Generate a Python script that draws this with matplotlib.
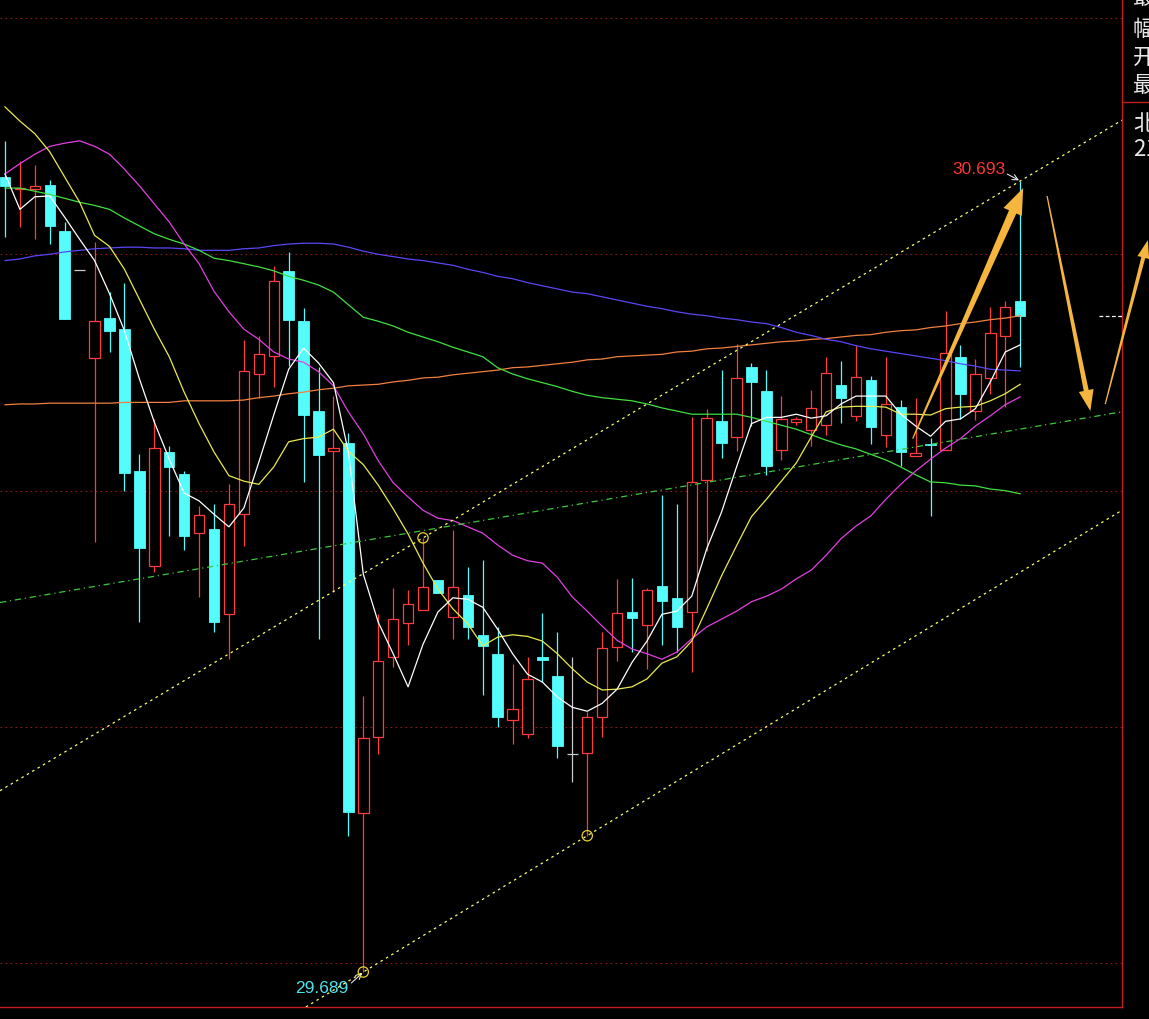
import numpy as np
import matplotlib.pyplot as plt
from matplotlib.patches import Polygon
from matplotlib.lines import Line2D
from matplotlib.transforms import IdentityTransform

plt.rcParams['font.family'] = ['Liberation Sans', 'DejaVu Sans']

# daily candles (open, high, low, close)
opens = [30.698, 30.683, 30.683, 30.688, 30.630, 30.580, 30.468, 30.519, 30.505, 30.325,
         30.204, 30.349, 30.321, 30.246, 30.251, 30.143, 30.270, 30.448, 30.471, 30.579,
         30.515, 30.401, 30.350, 30.360, 29.891, 29.987, 30.089, 30.132, 30.148, 30.187,
         30.140, 30.168, 30.117, 30.093, 30.009, 29.991, 30.089, 30.065, 29.966, 29.967,
         30.013, 30.101, 30.146, 30.129, 30.179, 30.164, 30.146, 30.313, 30.388, 30.368,
         30.457, 30.426, 30.352, 30.387, 30.377, 30.383, 30.434, 30.395, 30.440, 30.371,
         30.406, 30.344, 30.359, 30.352, 30.470, 30.401, 30.443, 30.496, 30.541]
highs = [30.744, 30.718, 30.713, 30.694, 30.641, 30.580, 30.616, 30.552, 30.564, 30.346,
         30.391, 30.357, 30.325, 30.280, 30.283, 30.308, 30.491, 30.496, 30.585, 30.603,
         30.532, 30.457, 30.420, 30.373, 30.039, 30.143, 30.176, 30.174, 30.240, 30.187,
         30.250, 30.203, 30.212, 30.127, 30.080, 30.089, 30.145, 30.121, 30.089, 30.019,
         30.121, 30.188, 30.189, 30.176, 30.294, 30.283, 30.393, 30.404, 30.453, 30.486,
         30.462, 30.453, 30.420, 30.393, 30.428, 30.470, 30.465, 30.485, 30.445, 30.470,
         30.415, 30.418, 30.367, 30.528, 30.485, 30.467, 30.533, 30.541, 30.693]
lows = [30.622, 30.635, 30.619, 30.613, 30.518, 30.580, 30.235, 30.476, 30.300, 30.133,
        30.197, 30.242, 30.225, 30.165, 30.121, 30.086, 30.230, 30.418, 30.432, 30.458,
        30.311, 30.112, 30.171, 29.862, 29.689, 29.966, 30.076, 30.104, 30.148, 30.170,
        30.112, 30.112, 30.041, 30.000, 29.978, 29.986, 30.057, 29.961, 29.930, 29.862,
        29.987, 30.084, 30.095, 30.074, 30.104, 30.095, 30.070, 30.223, 30.341, 30.350,
        30.382, 30.320, 30.339, 30.383, 30.357, 30.371, 30.386, 30.388, 30.359, 30.355,
        30.331, 30.344, 30.268, 30.352, 30.391, 30.390, 30.423, 30.406, 30.457]
closes = [30.687, 30.684, 30.687, 30.636, 30.518, 30.580, 30.515, 30.503, 30.322, 30.227,
          30.354, 30.330, 30.242, 30.269, 30.133, 30.283, 30.452, 30.473, 30.566, 30.517,
          30.396, 30.345, 30.354, 29.892, 29.986, 30.084, 30.137, 30.156, 30.178, 30.170,
          30.178, 30.127, 30.103, 30.013, 30.023, 30.061, 30.085, 29.976, 29.966, 30.013,
          30.100, 30.145, 30.138, 30.174, 30.160, 30.127, 30.311, 30.392, 30.360, 30.443,
          30.438, 30.331, 30.391, 30.391, 30.405, 30.449, 30.418, 30.444, 30.381, 30.410,
          30.349, 30.348, 30.358, 30.475, 30.423, 30.448, 30.500, 30.533, 30.522]

# moving averages
ma5 = [30.702, 30.657, 30.673, 30.674, 30.647, 30.619, 30.592, 30.550, 30.503, 30.442,
       30.387, 30.340, 30.297, 30.287, 30.270, 30.254, 30.278, 30.336, 30.396, 30.454,
       30.481, 30.462, 30.437, 30.349, 30.194, 30.133, 30.093, 30.051, 30.105, 30.146,
       30.164, 30.162, 30.152, 30.124, 30.093, 30.067, 30.057, 30.038, 30.025, 30.020,
       30.030, 30.048, 30.082, 30.109, 30.143, 30.147, 30.166, 30.226, 30.273, 30.330,
       30.385, 30.393, 30.393, 30.397, 30.392, 30.395, 30.410, 30.420, 30.420, 30.420,
       30.397, 30.382, 30.369, 30.388, 30.391, 30.404, 30.438, 30.476, 30.485]
ma10 = [30.787, 30.769, 30.753, 30.730, 30.698, 30.666, 30.624, 30.610, 30.581, 30.543,
        30.505, 30.470, 30.425, 30.385, 30.349, 30.319, 30.312, 30.308, 30.330, 30.362,
        30.366, 30.368, 30.378, 30.350, 30.333, 30.307, 30.277, 30.245, 30.208, 30.175,
        30.150, 30.131, 30.103, 30.114, 30.117, 30.115, 30.109, 30.093, 30.074, 30.057,
        30.047, 30.048, 30.051, 30.061, 30.081, 30.089, 30.109, 30.150, 30.192, 30.230,
        30.267, 30.289, 30.312, 30.335, 30.368, 30.400, 30.406, 30.407, 30.407, 30.406,
        30.397, 30.397, 30.396, 30.404, 30.406, 30.407, 30.414, 30.423, 30.435]
ma20 = [30.702, 30.715, 30.727, 30.737, 30.741, 30.744, 30.737, 30.727, 30.708, 30.687,
        30.664, 30.641, 30.613, 30.588, 30.553, 30.527, 30.505, 30.492, 30.476, 30.467,
        30.463, 30.451, 30.433, 30.400, 30.372, 30.338, 30.310, 30.292, 30.275, 30.265,
        30.262, 30.254, 30.246, 30.231, 30.218, 30.211, 30.208, 30.190, 30.165, 30.147,
        30.128, 30.110, 30.099, 30.093, 30.086, 30.095, 30.112, 30.127, 30.137, 30.147,
        30.159, 30.166, 30.175, 30.188, 30.199, 30.218, 30.239, 30.255, 30.268, 30.289,
        30.308, 30.325, 30.340, 30.354, 30.366, 30.382, 30.395, 30.409, 30.419]
ma60 = [30.684, 30.684, 30.680, 30.676, 30.671, 30.666, 30.662, 30.657, 30.646, 30.636,
        30.626, 30.619, 30.613, 30.605, 30.595, 30.592, 30.588, 30.584, 30.579, 30.572,
        30.567, 30.561, 30.552, 30.536, 30.520, 30.515, 30.509, 30.501, 30.495, 30.489,
        30.482, 30.476, 30.470, 30.456, 30.448, 30.442, 30.437, 30.432, 30.426, 30.421,
        30.418, 30.416, 30.414, 30.410, 30.405, 30.401, 30.397, 30.397, 30.397, 30.397,
        30.393, 30.388, 30.383, 30.378, 30.371, 30.364, 30.358, 30.353, 30.346, 30.339,
        30.330, 30.320, 30.311, 30.310, 30.307, 30.306, 30.302, 30.300, 30.296]
ma120 = [30.592, 30.594, 30.598, 30.600, 30.603, 30.605, 30.607, 30.608, 30.609, 30.609,
         30.608, 30.608, 30.607, 30.605, 30.605, 30.605, 30.607, 30.608, 30.611, 30.613,
         30.614, 30.614, 30.613, 30.609, 30.604, 30.600, 30.597, 30.594, 30.592, 30.589,
         30.586, 30.581, 30.577, 30.572, 30.569, 30.564, 30.560, 30.556, 30.552, 30.550,
         30.546, 30.542, 30.538, 30.534, 30.531, 30.527, 30.524, 30.522, 30.519, 30.517,
         30.514, 30.512, 30.507, 30.501, 30.497, 30.492, 30.489, 30.484, 30.480, 30.477,
         30.474, 30.471, 30.468, 30.465, 30.461, 30.458, 30.454, 30.453, 30.452]
ma250 = [30.409, 30.410, 30.410, 30.411, 30.411, 30.411, 30.411, 30.411, 30.412, 30.412,
         30.412, 30.412, 30.414, 30.414, 30.414, 30.414, 30.415, 30.418, 30.420, 30.423,
         30.425, 30.428, 30.430, 30.433, 30.434, 30.435, 30.438, 30.440, 30.443, 30.444,
         30.447, 30.449, 30.451, 30.453, 30.456, 30.457, 30.459, 30.461, 30.463, 30.466,
         30.467, 30.470, 30.471, 30.472, 30.473, 30.476, 30.477, 30.480, 30.481, 30.483,
         30.485, 30.487, 30.489, 30.490, 30.492, 30.493, 30.495, 30.497, 30.498, 30.501,
         30.503, 30.504, 30.507, 30.509, 30.512, 30.514, 30.517, 30.519, 30.522]

grid_levels = [29.7, 30.0, 30.3, 30.6, 30.9]

# candles whose high / low the software labels
marked_high = 68
marked_low = 24

# drawn annotations: channel lines, support line, hand-drawn arrows
upper_channel = [(28, 30.240), (68, 30.693)]
lower_channel = [(24, 29.689), (39, 29.862)]
support_line = [(-0.335, 30.158), (74.8, 30.400)]
circled = [(28, 30.240), (24, 29.689), (39, 29.862)]
arrows = [((60.8, 30.366), (68.2, 30.684), 8, 20, 26),
          ((69.8, 30.674), (72.7, 30.401), 5, 15, 21),
          ((73.7, 30.410), (76.55, 30.618), 4, 12, 18)]

panel_text = ['最', '幅', '开', '最', '北', '21']
panel_y = [-2, 29, 57, 86, 123, 150]

RED = '#FF3C3C'
CYAN = '#54FCFC'
GREY = '#C8C8C8'
BORDER = '#C41E1E'


def tapered_arrow(ax, tail, tip, w1, head_w, head_len, color):
    p0 = ax.transData.transform(tail)
    p1 = ax.transData.transform(tip)
    d = (p1 - p0) / np.hypot(*(p1 - p0))
    n = np.array([-d[1], d[0]])
    b = p1 - d * head_len
    pts = [p0 + n * 0.6, b + n * w1 / 2, b + n * head_w / 2, p1,
           b - n * head_w / 2, b - n * w1 / 2, p0 - n * 0.6]
    poly = Polygon(pts, closed=True, facecolor=color, edgecolor='none',
                   transform=IdentityTransform(), clip_on=False, zorder=10)
    ax.add_artist(poly)


fig = plt.figure(figsize=(11.49, 10.20), dpi=100, facecolor='black')
ax = fig.add_axes([0, 12 / 1020, 1122 / 1149, 1008 / 1020])
ax.set_facecolor('black')
ax.set_xlim(-0.335, 74.82)
ax.set_ylim(29.6446, 30.924)
ax.set_xticks([])
ax.set_yticks([])
for s in ['top', 'left']:
    ax.spines[s].set_visible(False)
for s in ['right', 'bottom']:
    ax.spines[s].set_color(BORDER)
    ax.spines[s].set_linewidth(1.0)

for g in grid_levels:
    ax.axhline(g, color='#8C1A1A', lw=0.8, ls=(0, (1.5, 3)), zorder=1)

o = np.array(opens)
h = np.array(highs)
l = np.array(lows)
c = np.array(closes)
idx = np.arange(len(c))
up = c > o
down = c < o
flat = c == o

ax.vlines(idx[up], l[up], h[up], color=RED, lw=0.9, zorder=2)
ax.bar(idx[up], c[up] - o[up], bottom=o[up], width=0.7, facecolor='black',
       edgecolor=RED, lw=0.9, zorder=3)
ax.vlines(idx[down], l[down], h[down], color=CYAN, lw=0.9, zorder=2)
ax.bar(idx[down], o[down] - c[down], bottom=c[down], width=0.7, facecolor=CYAN,
       edgecolor=CYAN, lw=0.6, zorder=3)
ax.vlines(idx[flat], l[flat], h[flat], color=GREY, lw=0.9, zorder=2)
ax.hlines(c[flat], idx[flat] - 0.35, idx[flat] + 0.35, color=GREY, lw=0.9, zorder=3)

ax.plot(idx, ma250, color='#F08040', lw=0.9, zorder=4)
ax.plot(idx, ma120, color='#5A46F5', lw=0.9, zorder=4)
ax.plot(idx, ma60, color='#40E040', lw=0.9, zorder=4)
ax.plot(idx, ma20, color='#E040E0', lw=0.9, zorder=4)
ax.plot(idx, ma10, color='#EAEA50', lw=0.9, zorder=4)
ax.plot(idx, ma5, color='white', lw=0.9, zorder=4)

ax.axline(upper_channel[0], upper_channel[1], color='#FFFF70', lw=0.9, ls=(0, (2, 3)), zorder=5)
ax.axline(lower_channel[0], lower_channel[1], color='#FFFF70', lw=0.9, ls=(0, (2, 3)), zorder=5)
ax.axline(support_line[0], support_line[1], color='#3CC83C', lw=0.9, ls=(0, (5, 3, 1, 3)), zorder=5)

ax.scatter([p[0] for p in circled], [p[1] for p in circled], s=55, facecolors='none',
           edgecolors='#E8D030', lw=0.9, zorder=6)

# last price marker
ax.plot([73.3, 74.8], [closes[-1], closes[-1]], color='white', lw=0.9, ls=(0, (3, 2)),
        clip_on=False, zorder=6)

hx, hy = marked_high, highs[marked_high]
lx, ly = marked_low, lows[marked_low]
ax.annotate('{:.3f}'.format(hy), xy=(hx, hy), xytext=(-15, 12),
            textcoords='offset pixels', ha='right', va='center', color='#FF3434', fontsize=12.5)
ax.annotate('', xy=(hx, hy), xytext=(-13, 7), textcoords='offset pixels',
            arrowprops=dict(arrowstyle='->', color='white', lw=0.7, shrinkA=0, shrinkB=1))
ax.annotate('{:.3f}'.format(ly), xy=(lx, ly), xytext=(-15, -15),
            textcoords='offset pixels', ha='right', va='center', color='#4CE4EC', fontsize=12.5)
ax.annotate('', xy=(lx, ly), xytext=(-12, -11), textcoords='offset pixels',
            arrowprops=dict(arrowstyle='->', color='white', lw=0.7, shrinkA=0, shrinkB=1))

for tail, tip, w1, hw, hl in arrows:
    tapered_arrow(ax, tail, tip, w1, hw, hl, '#F6B63E')

# right info panel (cut off)
fig.add_artist(Line2D([1122 / 1149, 1.0], [1 - 103 / 1020, 1 - 103 / 1020], color=BORDER, lw=1.0))
for t, y in zip(panel_text, panel_y):
    fig.text(1133 / 1149, 1 - y / 1020, t, color='#E8E8E8', fontsize=16, va='center', ha='left',
             family=['Noto Sans CJK SC', 'DejaVu Sans'])

fig.savefig('out.png', dpi=100, facecolor='black')
